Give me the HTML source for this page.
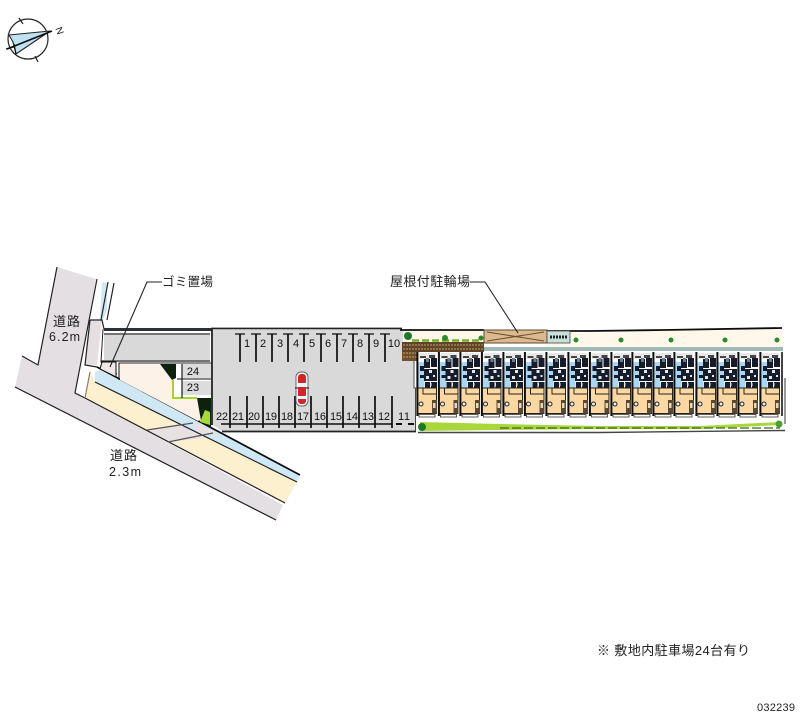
<!DOCTYPE html>
<html><head><meta charset="utf-8"><style>
html,body{margin:0;padding:0;background:#fff;width:800px;height:727px;overflow:hidden}
svg{display:block}
text{font-family:"Liberation Sans","Noto Sans CJK JP",sans-serif;fill:#222}
.n{font-size:11px;text-anchor:middle;fill:#111}
</style></head><body>
<svg width="800" height="727" viewBox="0 0 800 727" xmlns="http://www.w3.org/2000/svg">
<defs>
<filter id="b" x="-5%" y="-5%" width="110%" height="110%"><feGaussianBlur stdDeviation="0.3"/></filter>
<g id="u">
<rect x="0" y="352" width="21" height="38" fill="#fff"/>
<rect x="1.500" y="362" width="6" height="26" fill="#a9d6f2"/>
<rect x="2" y="353" width="17" height="6" fill="#e8e8e8"/>
<path d="M3 356h6v2h-6zM12 355h6v3h-6z" fill="#444"/>
<path d="M7 359h6v9h-6zM14 358h6v9h-6zM7 369h13v12h-13zM8 382h5v6h-5zM14 382h6v6h-6zM3 366h4v5h-4zM3 375h4v3h-4z" fill="#121c2a"/>
<path d="M12 370h3v3h-3zM9 376h3v3h-3zM16 375h2v2h-2zM13 383h1.500v3h-1.500z" fill="#dfe8f0"/>
<path d="M9 358h3v4h-3z" fill="#6c7f90"/>
<rect x="0.500" y="388" width="19" height="25.500" fill="#fbd8a2" stroke="#2a2418" stroke-width="1"/>
<path d="M6 388v6h13" fill="none" stroke="#2a2418" stroke-width="1"/>
<rect x="15" y="400" width="5" height="13.500" fill="#5a4a30"/>
<rect x="16" y="403" width="2.500" height="5" fill="#e8d8b8"/>
<circle cx="4" cy="404" r="2" fill="#eee" stroke="#222" stroke-width="1"/>
<rect x="-0.600" y="352" width="2" height="64" fill="#0c0c0c"/>
<rect x="2" y="414.500" width="16" height="2.500" fill="#fff" stroke="#333" stroke-width=".8"/>
</g>
</defs>
<g filter="url(#b)">
<!-- compass -->
<g fill="none" stroke="#222" stroke-width="1.200">
<circle cx="28" cy="39" r="20"/>
<path d="M19 18l4 6M35 56l3 6M6 49l11-3"/>
</g>
<path d="M9 35L50 31L16 54L13 42Z" fill="#bfe2f2" stroke="#222" stroke-width="1.100"/>
<path d="M7 49L52 31" stroke="#111" stroke-width="1.500"/>
<path d="M14 44L16 54" stroke="#111" stroke-width="1.200"/>
<text x="57" y="34" font-size="10" transform="rotate(70 60 30)">N</text>

<!-- road -->
<polygon points="57,267 96,279 75,393 85,398 283,505 276,520 15,387 22,356 38,365" fill="#e3dfe3"/>
<polygon points="85,398 90,372 95,382 297,482 285,503" fill="#fdf0cf"/>
<polygon points="147,430 193,423 218,436 168,442" fill="#e7e1e2"/>
<polygon points="95,372 100,370 300,475 297,482 95,382" fill="#cfe8f5"/>
<polygon points="193,421 213,431 220,436 197,432" fill="#e7e1e2"/>
<polygon points="102,282 107,283 107,310 103,320 100,318" fill="#cfe8f5"/>
<polygon points="90,320 102,320 97,365 85,365" fill="#e6dfe2"/>
<g fill="none" stroke="#222" stroke-width="1.200">
<path d="M57,267L38,365L22,356"/>
<path d="M15,387L276,520"/>
<path d="M85,398L285,503"/>
<path d="M97,279L75,393L85,398"/>
<path d="M90,320L102,320L104,329"/>
<path d="M108,282L101,320M114,283L107,320"/>
<path d="M90,320L85,365L97,367"/>
<path d="M95,382L297,482"/>
<path d="M147,430L193,423M168,442L213,433" stroke="#555"/>
<path d="M85,398L90,372" stroke="#8a8060"/>
</g>
<path d="M97,367L300,475" stroke="#0c0c0c" stroke-width="1.700" fill="none"/>

<!-- left strip -->
<rect x="104" y="328" width="108" height="3" fill="#2a3038"/>
<rect x="104" y="335" width="106" height="25" fill="#d9d9d9"/>
<path d="M104 334H210M101 361H210" stroke="#222" stroke-width="1.200"/>
<path d="M103 329L101 362L117 374" stroke="#222" fill="none"/>
<polygon points="102,362 116,362 116,377 100,369" fill="#efe6e6" stroke="#111" stroke-width="1"/>
<polygon points="120,364 162,364 172,380 172,398 198,398 203,418 198,421 120,380" fill="#fdf2e8"/>
<path d="M119 380V363H212" fill="none" stroke="#222" stroke-width="1.100"/>
<polygon points="160,364 176,364 176,378 172,380 166,372" fill="#10240f"/>
<path d="M173 380V398H197" fill="none" stroke="#a7d629" stroke-width="2"/>
<polygon points="197,398 211,398 211,428 201,421" fill="#10240f"/>
<polygon points="205,410 210,412 210,425 200,422" fill="#a8d936"/>
<rect x="182" y="364" width="29" height="14" fill="#dcdcdc"/>
<rect x="182" y="381" width="29" height="14" fill="#dcdcdc"/>
<path d="M182 364V398M177 379H211" stroke="#111" stroke-width="1.100"/>
<text class="n" x="193" y="375">24</text>
<text class="n" x="193" y="391">23</text>

<!-- parking lot -->
<polygon points="213,330 416,330 416,431 222,431 213,425" fill="#d9d9d9"/>
<path d="M402 328.500H212V425M222 431.500H416" fill="none" stroke="#222" stroke-width="1.800"/>
<rect x="414" y="360" width="4" height="28" fill="#fff" stroke="#444" stroke-width=".9"/>
<path d="M415.500 388V431" stroke="#444"/>
<g stroke="#0c0c0c" stroke-width="1.700" fill="none">
<path d="M240 334v28M256 334v28M272 334v28M288 334v28M304 334v28M321 334v28M337 334v28M353 334v28M369 334v28M385 334v28"/>
<path d="M235 334h10M251 334h10M267 334h10M283 334h10M299 334h10M316 334h10M332 334h10M348 334h10M364 334h10M380 334h10" stroke-width="1.200"/>
<path d="M230 396v32M247 396v32M263 396v32M279 396v32M295 396v32M311 396v32M327 396v32M343 396v32M359 396v32M375 396v32M392 396v32"/>
<path d="M221 424h18M238 424h18M254 424h18M270 424h18M286 424h18M302 424h18M318 424h18M334 424h18M350 424h18M366 424h18M383 424h9" stroke-width="1.400"/>
<path d="M396 424h6M408 424h6" stroke-width="1.900"/>
</g>
<g>
<text class="n" x="247" y="347">1</text><text class="n" x="263" y="347">2</text><text class="n" x="280" y="347">3</text><text class="n" x="296" y="347">4</text><text class="n" x="312" y="347">5</text><text class="n" x="328" y="347">6</text><text class="n" x="344" y="347">7</text><text class="n" x="360" y="347">8</text><text class="n" x="376" y="347">9</text><text class="n" x="394" y="347">10</text>
<text class="n" x="222" y="420" textLength="12">22</text><text class="n" x="238" y="420" textLength="12">21</text><text class="n" x="254" y="420" textLength="12">20</text><text class="n" x="271" y="420" textLength="12">19</text><text class="n" x="287" y="420" textLength="12">18</text><text class="n" x="303" y="420" textLength="12">17</text><text class="n" x="320" y="420" textLength="12">16</text><text class="n" x="336" y="420" textLength="12">15</text><text class="n" x="352" y="420" textLength="12">14</text><text class="n" x="368" y="420" textLength="12">13</text><text class="n" x="384" y="420" textLength="12">12</text><text class="n" x="404" y="420" textLength="12">11</text>
</g>
<!-- car -->
<rect x="296" y="372" width="12" height="34" rx="5" fill="#fff" stroke="#666" stroke-width="1"/>
<rect x="298" y="374" width="8" height="30" rx="3" fill="#d8202a"/>
<rect x="298" y="383" width="8" height="4" fill="#dff"/>
<rect x="298" y="396" width="8" height="3" fill="#dff"/>
<path d="M295 388h3M306 388h3" stroke="#111"/>

<!-- upper strip -->
<polygon points="403,331 484,331 484,342 403,342" fill="#fff8ea"/>
<rect x="402" y="342" width="15" height="19" fill="#6f5029"/>
<rect x="402" y="342" width="82" height="10" fill="#5f4525"/>
<path d="M403 345h80M403 349h80M403 353h14M403 357h14" stroke="#c0a070" stroke-width="1" stroke-dasharray="2 1"/>
<path d="M412 340.500h70" stroke="#6fb02a" stroke-width="2.600" stroke-dasharray="7 3"/>
<circle cx="408" cy="336" r="4" fill="#1e7a2a"/>
<circle cx="445" cy="338" r="3" fill="#2a8a2a"/>
<circle cx="481" cy="338" r="2.500" fill="#2a8a2a"/>
<polygon points="547,332 590,333 664,331 782,329 784,347 547,347" fill="#fff8ea"/>
<path d="M400 330H484M547 331H590L664 330L782 328" stroke="#111" stroke-width="1.800" fill="none"/>
<rect x="484" y="347" width="299" height="4" fill="#9fbab6"/>
<rect x="484" y="330" width="63" height="13" fill="#dcb98f" stroke="#5c4a30" stroke-width="1"/>
<path d="M487 332L544 341M487 341L544 332" stroke="#6a4f2f" stroke-width="1"/>
<rect x="547" y="331" width="23" height="12" fill="#c9e1dc" stroke="#444" stroke-width=".8"/>
<path d="M550 337h18" stroke="#222" stroke-width="3" stroke-dasharray="2 1"/>
<g fill="#2b8a2f"><circle cx="576" cy="340" r="2.500"/><circle cx="621" cy="340" r="2.500"/><circle cx="671" cy="340" r="2.500"/><circle cx="725" cy="340" r="2.500"/><circle cx="777" cy="340" r="2.500"/></g>

<!-- units -->
<use href="#u" x="417"/><use href="#u" x="438.500"/><use href="#u" x="460"/><use href="#u" x="481.500"/><use href="#u" x="503"/><use href="#u" x="524.500"/><use href="#u" x="546"/><use href="#u" x="568"/><use href="#u" x="589.500"/><use href="#u" x="611"/><use href="#u" x="632"/><use href="#u" x="653"/><use href="#u" x="674"/><use href="#u" x="696"/><use href="#u" x="717"/><use href="#u" x="738"/><use href="#u" x="760"/>
<path d="M782 352V416" stroke="#222" stroke-width="1.700"/>
<path d="M785 378V424" stroke="#777" stroke-width="1.500"/>

<!-- bottom green strip -->
<polygon points="420,422 500,424 600,426 700,426 780,422 780,425 700,429 600,429 500,430 420,431" fill="#a9d63a"/>
<path d="M500 428H780" stroke="#3a6a18" stroke-width="1.200" stroke-dasharray="9 3"/>
<path d="M418 432.500H600L785 430.500" stroke="#444" stroke-width="1.400" fill="none"/>
<circle cx="422" cy="427" r="4" fill="#1e7a2a"/>
<circle cx="779" cy="424" r="3.500" fill="#4aa02f"/>

<!-- leaders -->
<path d="M162 282H147L110 367" fill="none" stroke="#222" stroke-width="1.100"/>
<path d="M470 282H485L518 333" fill="none" stroke="#222" stroke-width="1.100"/>

<!-- labels -->
<text x="162" y="286" font-size="12.500" textLength="51">ゴミ置場</text>
<text x="390" y="286" font-size="13" textLength="80">屋根付駐輪場</text>
<text x="53" y="326" font-size="13" textLength="27">道路</text>
<text x="49" y="341" font-size="12.500" textLength="31">6.2m</text>
<text x="110" y="460" font-size="13" textLength="27">道路</text>
<text x="109" y="476" font-size="12.500" textLength="32">2.3m</text>
<text x="597" y="655" font-size="13" textLength="153">※ 敷地内駐車場24台有り</text>
<text x="757" y="711" font-size="11" textLength="38">032239</text>
</g>
</svg>
</body></html>
